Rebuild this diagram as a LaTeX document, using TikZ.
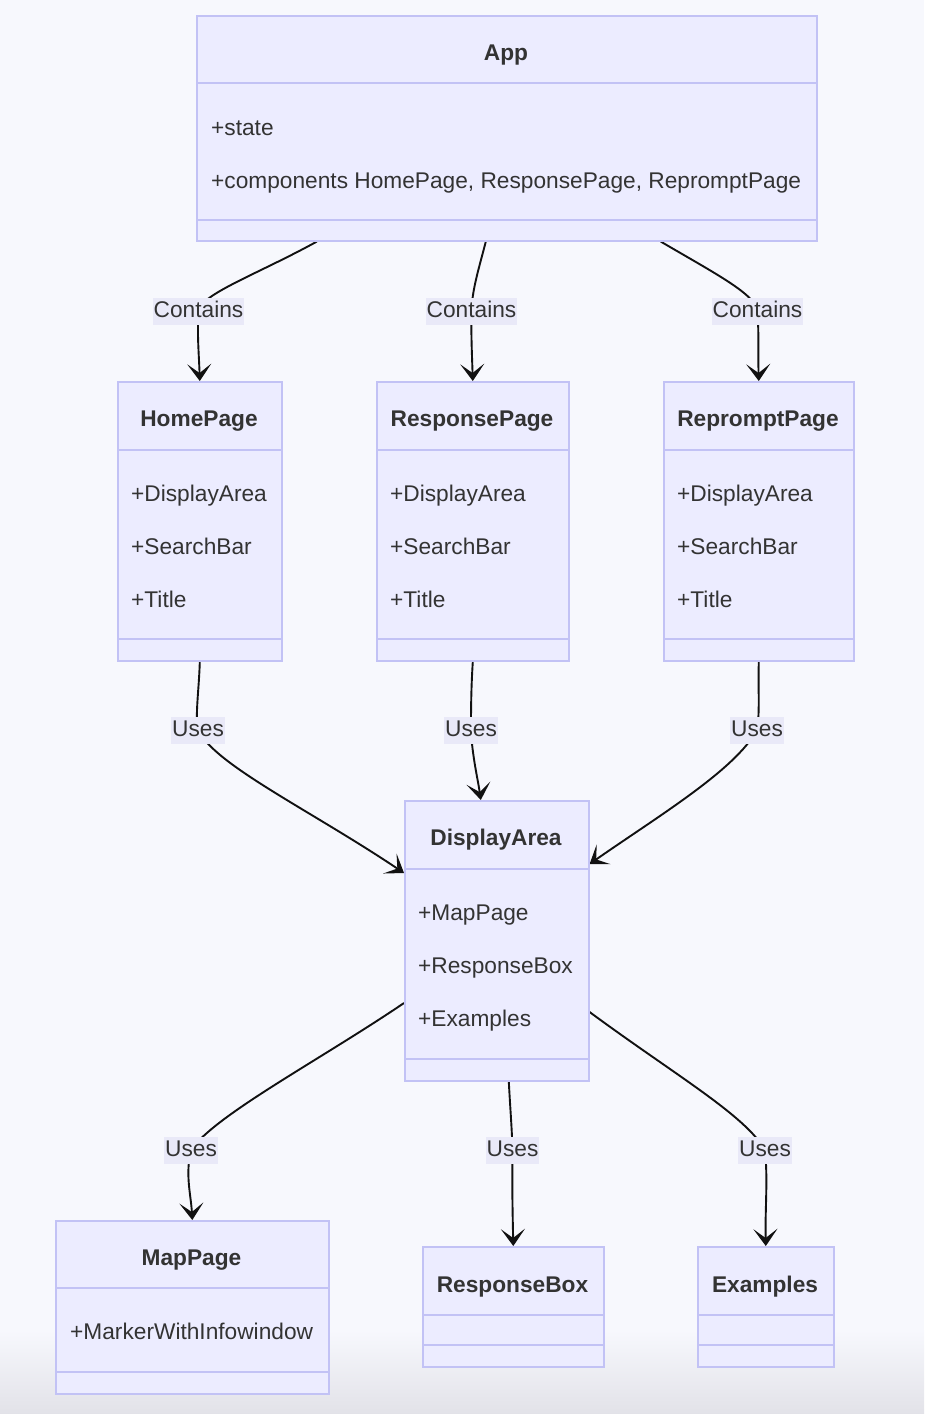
\documentclass[tikz,border=0pt]{standalone}
\usepackage{fontspec}
\setmainfont{Liberation Sans}
\usetikzlibrary{arrows.meta,calc}
\definecolor{bgc}{HTML}{F7F8FD}
\definecolor{boxfill}{HTML}{ECECFF}
\definecolor{boxline}{HTML}{C2C2F5}
\definecolor{txt}{HTML}{333333}
\definecolor{lblfill}{HTML}{E9E9F8}
\definecolor{edgec}{HTML}{111111}
\definecolor{shadowc}{HTML}{E2E2E8}
\pgfdeclarelayer{bglayer}
\pgfdeclarelayer{edgelayer}
\pgfsetlayers{bglayer,edgelayer,main}
\tikzset{
  umlbox/.style={draw=boxline, line width=1.6pt, fill=boxfill, inner sep=0pt},
  divider/.style={draw=boxline, line width=1.6pt},
  ttl/.style={text=txt, font=\fontsize{22.7}{27}\selectfont\bfseries, inner sep=0pt, anchor=base},
  attr/.style={text=txt, font=\fontsize{22.7}{27}\selectfont, inner sep=0pt, anchor=base west},
  elabel/.style={fill=lblfill, text=txt, font=\fontsize{22.7}{27}\selectfont, inner xsep=1pt, inner ysep=0pt, minimum height=27pt, text height=16.5pt, text depth=4.5pt},
  edge/.style={draw=edgec, line width=1.9pt, -{Stealth[length=17pt,width=24pt,inset=9pt]}}
}
\begin{document}
\begin{tikzpicture}[x=1pt,y=-1pt]
\useasboundingbox (0,0) rectangle (924,1414);
\begin{pgfonlayer}{bglayer}
  \fill[bgc] (0,0) rectangle (924,1414);
  \shade[top color=bgc, bottom color=shadowc] (0,1330) rectangle (924,1414);
\end{pgfonlayer}

% ---------- App ----------
\node[umlbox, anchor=north west, minimum width=620pt, minimum height=225pt] (app) at (196,15) {};
\draw[divider] (app.west |- 0,83) -- (app.east |- 0,83);
\draw[divider] (app.west |- 0,220) -- (app.east |- 0,220);
\node[ttl] (app-t) at (506,60) {App};
\node[attr] (app-a1) at (211,135) {+state};
\node[attr] (app-a2) at (211,188) {+components HomePage, ResponsePage, RepromptPage};

% ---------- HomePage ----------
\node[umlbox, anchor=north west, minimum width=164pt, minimum height=279pt] (home) at (117,381) {};
\draw[divider] (home.west |- 0,450) -- (home.east |- 0,450);
\draw[divider] (home.west |- 0,639) -- (home.east |- 0,639);
\node[ttl] (home-t) at (199,426) {HomePage};
\node[attr] (home-a1) at (131,501) {+DisplayArea};
\node[attr] (home-a2) at (131,554) {+SearchBar};
\node[attr] (home-a3) at (131,607) {+Title};

% ---------- ResponsePage ----------
\node[umlbox, anchor=north west, minimum width=192pt, minimum height=279pt] (resp) at (376,381) {};
\draw[divider] (resp.west |- 0,450) -- (resp.east |- 0,450);
\draw[divider] (resp.west |- 0,639) -- (resp.east |- 0,639);
\node[ttl] (resp-t) at (472,426) {ResponsePage};
\node[attr] (resp-a1) at (390,501) {+DisplayArea};
\node[attr] (resp-a2) at (390,554) {+SearchBar};
\node[attr] (resp-a3) at (390,607) {+Title};

% ---------- RepromptPage ----------
\node[umlbox, anchor=north west, minimum width=190pt, minimum height=279pt] (rep) at (663,381) {};
\draw[divider] (rep.west |- 0,450) -- (rep.east |- 0,450);
\draw[divider] (rep.west |- 0,639) -- (rep.east |- 0,639);
\node[ttl] (rep-t) at (758,426) {RepromptPage};
\node[attr] (rep-a1) at (677,501) {+DisplayArea};
\node[attr] (rep-a2) at (677,554) {+SearchBar};
\node[attr] (rep-a3) at (677,607) {+Title};

% ---------- DisplayArea ----------
\node[umlbox, anchor=north west, minimum width=184pt, minimum height=280pt] (disp) at (404,800) {};
\draw[divider] (disp.west |- 0,869) -- (disp.east |- 0,869);
\draw[divider] (disp.west |- 0,1059) -- (disp.east |- 0,1059);
\node[ttl] (disp-t) at (496,845) {DisplayArea};
\node[attr] (disp-a1) at (418,920) {+MapPage};
\node[attr] (disp-a2) at (418,973) {+ResponseBox};
\node[attr] (disp-a3) at (418,1026) {+Examples};

% ---------- MapPage ----------
\node[umlbox, anchor=north west, minimum width=273pt, minimum height=173pt] (map) at (55,1220) {};
\draw[divider] (map.west |- 0,1288) -- (map.east |- 0,1288);
\draw[divider] (map.west |- 0,1372) -- (map.east |- 0,1372);
\node[ttl] (map-t) at (191.5,1265) {MapPage};
\node[attr] (map-a1) at (70,1339) {+MarkerWithInfowindow};

% ---------- ResponseBox ----------
\node[umlbox, anchor=north west, minimum width=181pt, minimum height=120pt] (rbox) at (422,1246) {};
\draw[divider] (rbox.west |- 0,1315) -- (rbox.east |- 0,1315);
\draw[divider] (rbox.west |- 0,1345) -- (rbox.east |- 0,1345);
\node[ttl] (rbox-t) at (512.5,1292) {ResponseBox};

% ---------- Examples ----------
\node[umlbox, anchor=north west, minimum width=136pt, minimum height=120pt] (ex) at (697,1246) {};
\draw[divider] (ex.west |- 0,1315) -- (ex.east |- 0,1315);
\draw[divider] (ex.west |- 0,1345) -- (ex.east |- 0,1345);
\node[ttl] (ex-t) at (765,1292) {Examples};

% ---------- edge labels ----------
\node[elabel] (l1) at (198.5,311) {Contains};
\node[elabel] (l2) at (471.5,311) {Contains};
\node[elabel] (l3) at (757.5,311) {Contains};
\node[elabel] (l4) at (198,730) {Uses};
\node[elabel] (l5) at (471,730) {Uses};
\node[elabel] (l6) at (757,730) {Uses};
\node[elabel] (l7) at (191,1150) {Uses};
\node[elabel] (l8) at (512.5,1150) {Uses};
\node[elabel] (l9) at (765,1150) {Uses};

% ---------- edges ----------
\begin{pgfonlayer}{edgelayer}
\draw[edge] ($(app.south)+(-190,0)$) .. controls (258,274) and (201,294) .. (l1.center)
            .. controls (197,335) and (199,355) .. (home.north);
\draw[edge] ($(app.south)+(-21,0)$) .. controls (479,268) and (472,290) .. (l2.center)
            .. controls (471,335) and (472,355) .. (resp.north);
\draw[edge] ($(app.south)+(154,0)$) .. controls (716,274) and (755,294) .. (l3.center)
            .. controls (759,335) and (758,355) .. (rep.north);
\draw[edge] (home.south) .. controls (199,690) and (195,715) .. (l4.center)
            .. controls (215,765) and (310,810) .. ($(disp.north west)+(0,73)$);
\draw[edge] (resp.south) .. controls (471,690) and (471,712) .. (l5.center)
            .. controls (472,755) and (478,780) .. ($(disp.north)+(-16,0)$);
\draw[edge] (rep.south) .. controls (758,690) and (760,712) .. (l6.center)
            .. controls (735,770) and (660,815) .. ($(disp.north east)+(0,64)$);
\draw[edge] ($(disp.north west)+(0,203)$) .. controls (320,1060) and (215,1115) .. (l7.center)
            .. controls (185,1175) and (191,1195) .. (map.north);
\draw[edge] ($(disp.south)+(12,0)$) .. controls (510,1105) and (512,1130) .. (l8.center)
            .. controls (512,1180) and (512.5,1210) .. (rbox.north);
\draw[edge] ($(disp.north east)+(0,212)$) .. controls (675,1075) and (745,1115) .. (l9.center)
            .. controls (768,1180) and (765,1210) .. (ex.north);
\end{pgfonlayer}
\end{tikzpicture}
\end{document}
